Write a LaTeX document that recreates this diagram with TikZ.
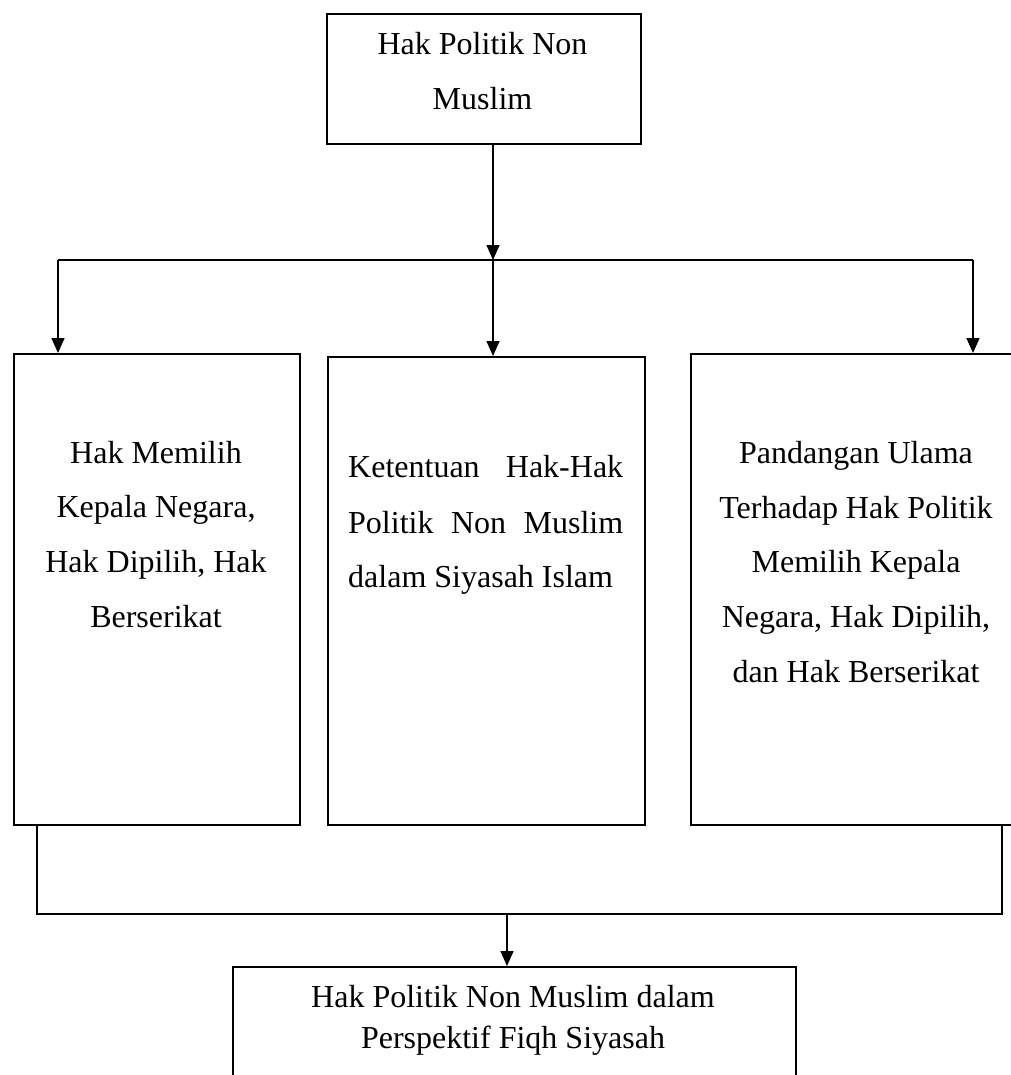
\documentclass[tikz,border=0pt]{standalone}
\usepackage{fontspec}
\setmainfont{Liberation Serif}
\usetikzlibrary{arrows.meta}
\begin{document}
\begin{tikzpicture}[x=1pt,y=-1pt,
  boxstyle/.style={draw=black,line width=1.8pt,rectangle,inner sep=0pt,anchor=north west},
  txt/.style={font=\fontsize{32}{38}\selectfont,inner sep=0pt,anchor=base},
  conn/.style={line width=1.5pt},
  arr/.style={line width=1.5pt,-{Triangle[length=15pt,width=13pt]}}]
\useasboundingbox (0,0) rectangle (1010,1075);
% boxes
\node[boxstyle,minimum width=314pt,minimum height=130pt] (top) at (326,13) {};
\node[boxstyle,minimum width=286pt,minimum height=471pt] (left) at (13,353) {};
\node[boxstyle,minimum width=317pt,minimum height=468pt] (mid) at (327,356) {};
\node[boxstyle,minimum width=345pt,minimum height=471pt] (right) at (690,353) {};
\node[boxstyle,minimum width=563pt,minimum height=140pt] (bot) at (232,966) {};
% texts
\node[txt] (t1) at (482.5,55) {Hak Politik Non};
\node[txt] (t2) at (482.5,110) {Muslim};
\node[txt] (l1) at (156,463) {Hak Memilih};
\node[txt] (l2) at (156,517) {Kepala Negara,};
\node[txt] (l3) at (156,572) {Hak Dipilih, Hak};
\node[txt] (l4) at (156,627) {Berserikat};
\node[txt,anchor=base west] (m1) at (348,477) {\makebox[275pt][s]{Ketentuan Hak-Hak}};
\node[txt,anchor=base west] (m2) at (348,533) {\makebox[275pt][s]{Politik Non Muslim}};
\node[txt,anchor=base west] (m3) at (348,587) {dalam Siyasah Islam};
\node[txt] (r1) at (856,463) {Pandangan Ulama};
\node[txt] (r2) at (856,518) {Terhadap Hak Politik};
\node[txt] (r3) at (856,572) {Memilih Kepala};
\node[txt] (r4) at (856,627) {Negara, Hak Dipilih,};
\node[txt] (r5) at (856,682) {dan Hak Berserikat};
\node[txt] (b1) at (513,1007) {Hak Politik Non Muslim dalam};
\node[txt] (b2) at (513,1048) {Perspektif Fiqh Siyasah};
% connectors
\coordinate (j1) at (493,260);
\coordinate (hl) at (58,260);
\coordinate (hr) at (973,260);
\draw[arr] (j1 |- top.south) -- (j1);
\draw[conn] (hl) -- (hr);
\draw[arr] (hl) -- (hl |- left.north);
\draw[arr] (j1) -- (j1 |- mid.north);
\draw[arr] (hr) -- (hr |- right.north);
\coordinate (bl) at (37,914);
\coordinate (br) at (1002,914);
\coordinate (bj) at (507,914);
\draw[conn] (bl |- left.south) -- (bl) -- (br) -- (br |- right.south);
\draw[arr] (bj) -- (bj |- bot.north);
\end{tikzpicture}
\end{document}
